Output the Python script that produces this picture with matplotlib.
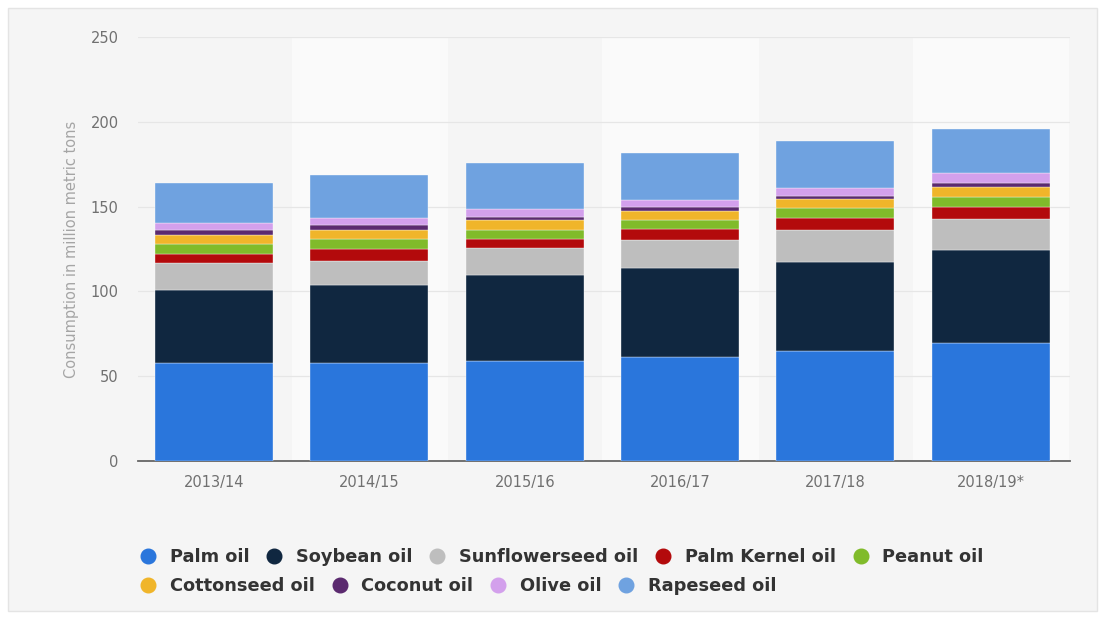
import numpy as np
import matplotlib.pyplot as plt
from matplotlib.patches import Rectangle
from matplotlib.lines import Line2D

# 年度ごとの植物油消費量（百万トン）
years = ['2013/14', '2014/15', '2015/16', '2016/17', '2017/18', '2018/19*']
oils = ['Palm oil', 'Soybean oil', 'Sunflowerseed oil', 'Palm Kernel oil', 'Peanut oil',
        'Cottonseed oil', 'Coconut oil', 'Olive oil', 'Rapeseed oil']
palm = [57.6, 57.6, 59.1, 61.5, 65.0, 69.4]
soybean = [43.0, 46.2, 50.6, 52.1, 52.5, 55.0]
sunflower = [16.0, 14.3, 15.7, 16.7, 18.7, 18.1]
palm_kernel = [5.5, 6.9, 5.5, 6.3, 6.9, 7.5]
peanut = [5.8, 6.0, 5.3, 5.5, 5.9, 5.5]
cottonseed = [5.5, 5.4, 5.9, 5.5, 5.5, 6.3]
coconut = [2.6, 2.8, 1.9, 1.9, 1.9, 2.3]
olive = [4.2, 4.3, 4.6, 4.4, 4.4, 5.5]
rapeseed = [24.0, 25.1, 27.4, 27.8, 27.7, 26.2]

series = [palm, soybean, sunflower, palm_kernel, peanut, cottonseed, coconut, olive, rapeseed]
colors = ['#2a76dc', '#102740', '#bebebe', '#b30a0c', '#80bb2a',
          '#f0b52a', '#5b2a6f', '#d3a0ec', '#6fa2e0']

fig = plt.figure(figsize=(11.05, 6.19), dpi=100, facecolor='white')
fig.patches.append(Rectangle((8 / 1105, 8 / 619), 1 - 16 / 1105, 1 - 16 / 619,
                             transform=fig.transFigure, facecolor='#f5f5f5',
                             edgecolor='#e4e4e4', linewidth=1, zorder=-5))

ax = fig.add_axes([138 / 1105, 1 - 461 / 619, 932 / 1105, 424 / 619])
ax.set_facecolor('none')

x = np.arange(len(years))

# 列ごとの淡い背景
for i in x:
    if i % 2 == 1:
        ax.axvspan(i - 0.5, i + 0.5, color='#fafafa', zorder=0)

bottom = np.zeros(len(years))
for vals, c, name in zip(series, colors, oils):
    vals = np.array(vals)
    ax.bar(x, vals, 0.76, bottom=bottom, color=c, label=name,
           edgecolor='#ffffff', linewidth=0.25, zorder=3)
    bottom += vals

ax.set_xlim(-0.49, 5.51)
ax.set_ylim(0, 250)
ax.set_yticks([0, 50, 100, 150, 200, 250])
ax.grid(axis='y', color='#e6e6e6', linewidth=0.9, zorder=1)
ax.set_axisbelow(True)
for s in ['top', 'right', 'left']:
    ax.spines[s].set_visible(False)
ax.spines['bottom'].set_color('#666666')
ax.spines['bottom'].set_linewidth(1.3)
ax.tick_params(axis='y', length=0, pad=14, labelsize=10.5, labelcolor='#707070')
ax.tick_params(axis='x', length=0, pad=10, labelsize=10.5, labelcolor='#707070')
ax.set_xticks(x)
ax.set_xticklabels(years)
ax.set_ylabel('Consumption in million metric tons', fontsize=10.5, color='#a5a5a5', labelpad=8)

# 凡例（2行）
def legend_row(names, cols, y):
    handles = [Line2D([], [], marker='o', linestyle='none', markersize=10.5,
                      markerfacecolor=c, markeredgecolor=c) for c in cols]
    leg = fig.legend(handles, names, loc='lower left', bbox_to_anchor=(125 / 1105, y),
                     ncol=len(names), frameon=False, handletextpad=0.82,
                     columnspacing=1.0, handlelength=0.8, borderpad=0.4,
                     prop={'weight': 'bold', 'size': 12.8})
    for t in leg.get_texts():
        t.set_color('#333333')
    return leg

legend_row(oils[:5], colors[:5], 1 - 582 / 619)
legend_row(oils[5:], colors[5:], 1 - 611 / 619)

fig.savefig('out.png', dpi=100, facecolor=fig.get_facecolor())
